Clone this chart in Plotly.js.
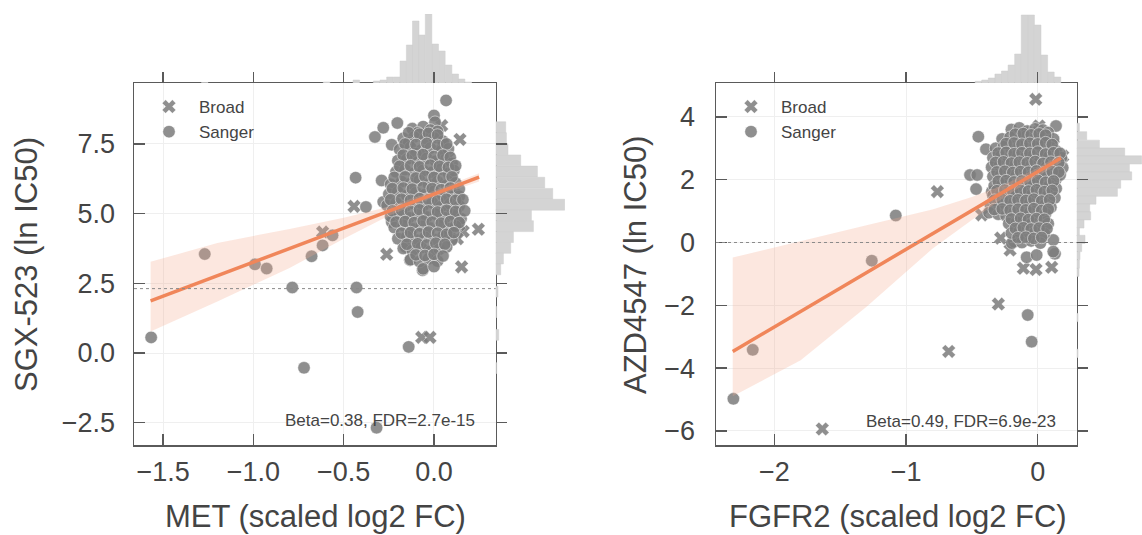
<!DOCTYPE html>
<html>
<head>
<meta charset="utf-8">
<script src="https://cdn.plot.ly/plotly-3.0.1.min.js"></script>
<style>html,body{margin:0;padding:0;background:#fff;}#chart{width:1142px;height:535px;}</style>
</head>
<body>
<div id="chart"></div>
<script>
// ---------------- DATA ----------------
// Left panel: MET vs SGX-523
const metBroad = [[-0.443,5.26],[-0.617,4.34],[-0.262,3.54],[0.153,3.09],[0.246,4.44],[0.162,4.36],[0.144,7.66],[0.043,7.51],[0.043,8.16],[-0.026,7.92],[0.08,7.03],[0.09,6.4],[-0.068,0.56],[-0.022,0.56],[0.12,5.9],[0.13,4.1],[0.1,5.0],[0.14,4.6]];
const metSanger = [
 [0.067,9.06],[0.0,8.52],[0.006,8.28],[-0.203,8.25],[-0.281,8.08],[-0.327,7.75],[-0.234,7.47],[-0.434,6.29],[-0.29,6.19],[-0.377,5.24],[-0.281,5.42],[-0.234,4.7],[-0.562,4.22],[-0.617,3.86],[-0.678,3.47],[-1.27,3.55],[-0.992,3.18],[-0.927,3.03],[-0.785,2.35],[-0.429,2.35],[-0.423,1.47],[-1.567,0.56],[-0.14,0.22],[-0.72,-0.53],[-0.318,-2.68],[-0.157,3.8],[-0.133,3.33],[-0.063,2.97],
 [-0.12,8.05],[-0.06,8.12],[-0.02,8.0],[0.02,7.95],[-0.09,7.9],
 [-0.17,7.7],[-0.11,7.75],[-0.05,7.68],[0.0,7.72],[0.05,7.6],[-0.14,7.55],
 [-0.19,7.3],[-0.13,7.38],[-0.07,7.28],[-0.02,7.35],[0.04,7.25],[0.08,7.32],[-0.1,7.15],
 [-0.2,6.9],[-0.15,6.95],[-0.09,6.85],[-0.04,6.98],[0.01,6.88],[0.06,6.92],[0.1,6.8],
 [-0.21,6.5],[-0.16,6.58],[-0.11,6.45],[-0.06,6.55],[-0.01,6.48],[0.04,6.6],[0.08,6.45],[0.11,6.55],
 [-0.24,6.05],[-0.18,6.15],[-0.13,6.08],[-0.08,6.2],[-0.03,6.05],[0.02,6.15],[0.07,6.02],[0.12,6.1],
 [-0.25,5.7],[-0.2,5.78],[-0.15,5.65],[-0.1,5.75],[-0.05,5.68],[0.0,5.8],[0.05,5.66],[0.1,5.74],[0.14,5.62],
 [-0.26,5.3],[-0.21,5.38],[-0.16,5.25],[-0.11,5.35],[-0.06,5.28],[-0.01,5.4],[0.04,5.25],[0.09,5.35],[0.14,5.28],
 [-0.24,4.9],[-0.19,4.98],[-0.14,4.85],[-0.09,4.95],[-0.04,4.88],[0.01,4.98],[0.06,4.85],[0.11,4.95],[0.15,4.82],
 [-0.22,4.5],[-0.17,4.58],[-0.12,4.45],[-0.07,4.55],[-0.02,4.48],[0.03,4.58],[0.08,4.45],[0.12,4.55],
 [-0.2,4.1],[-0.15,4.18],[-0.1,4.05],[-0.05,4.15],[0.0,4.08],[0.05,4.18],[0.1,4.05],
 [-0.17,3.75],[-0.12,3.68],[-0.07,3.78],[-0.02,3.65],[0.03,3.72],[0.07,3.8],
 [-0.13,3.35],[-0.08,3.28],[-0.03,3.38],[0.02,3.3],
 [-0.06,3.02],[0.0,3.1],
 [-0.14,7.9],[-0.08,7.85],[-0.03,7.88],[0.02,7.82],
 [-0.16,7.5],[-0.1,7.48],[-0.04,7.52],[0.02,7.45],[0.07,7.5],
 [-0.17,7.1],[-0.12,7.08],[-0.06,7.12],[0.0,7.05],[0.05,7.1],[0.09,7.02],
 [-0.19,6.7],[-0.13,6.72],[-0.08,6.68],[-0.02,6.74],[0.03,6.7],[0.08,6.66],[0.12,6.72],
 [-0.22,6.3],[-0.16,6.32],[-0.1,6.28],[-0.05,6.34],[0.0,6.3],[0.05,6.28],[0.1,6.32],
 [-0.23,5.9],[-0.17,5.92],[-0.12,5.88],[-0.06,5.94],[-0.01,5.9],[0.04,5.86],[0.09,5.92],[0.14,5.88],
 [-0.24,5.5],[-0.18,5.52],[-0.13,5.48],[-0.08,5.54],[-0.03,5.5],[0.02,5.46],[0.07,5.52],[0.12,5.48],[0.16,5.5],
 [-0.23,5.1],[-0.18,5.12],[-0.13,5.08],[-0.08,5.14],[-0.03,5.1],[0.02,5.06],[0.07,5.12],[0.12,5.08],[0.17,5.1],
 [-0.21,4.7],[-0.16,4.72],[-0.11,4.68],[-0.06,4.74],[-0.01,4.7],[0.04,4.66],[0.09,4.72],[0.14,4.68],
 [-0.18,4.3],[-0.13,4.32],[-0.08,4.28],[-0.03,4.34],[0.02,4.3],[0.07,4.26],[0.11,4.32],
 [-0.15,3.9],[-0.09,3.92],[-0.04,3.88],[0.01,3.94],[0.06,3.9],
 [-0.1,3.52],[-0.05,3.5],[0.0,3.54],[0.05,3.48]
];
const metFitX = [-1.57, 0.25];
const metFitY = [1.87, 6.31];
const metBandX  = [-1.57, -1.2, -0.8, -0.5, -0.25, 0.0, 0.25];
const metBandHi = [3.27, 3.95, 4.45, 4.85, 5.25, 5.82, 6.45];
const metBandLo = [0.77, 1.85, 3.05, 4.10, 4.92, 5.60, 6.15];
const metRefY = 2.31;
const metHistXBins   = [-1.27,-0.595,-0.43,-0.318,-0.281,-0.244,-0.207,-0.170,-0.135,-0.101,-0.067,-0.030,0.007,0.044,0.081,0.118,0.153,0.19];
const metHistXCounts = [0.5,1,3,2,3,6,6,22,38,62,48,69,39,32,18,9,4,1];
const metHistYBins   = [8.10,7.71,7.31,6.91,6.51,6.11,5.71,5.32,4.94,4.55,4.16,3.77,3.39,3.00,2.20,1.47,0.65,-0.54];
const metHistYCounts = [10,10.7,12.3,25,41.7,49,57,69,35.7,37.7,17.7,15,7.7,5,2.3,1,3,1];
const metStat = "Beta=0.38, FDR=2.7e-15";

// Right panel: FGFR2 vs AZD4547
const fgfrBroad = [[-0.015,4.56],[0.01,3.71],[-0.762,1.62],[-0.425,0.88],[-0.281,0.14],[-0.21,-0.24],[-0.299,-1.96],[-0.676,-3.47],[-1.636,-5.94],[-0.109,-0.82],[-0.013,-0.86],[0.106,-0.79],[0.19,2.75],[-0.05,3.5],[0.12,3.1]];
const fgfrSanger = [
 [0.139,3.71],[-0.451,3.37],[-0.393,2.97],[-0.514,2.15],[-0.46,2.15],[-0.468,1.70],[-1.078,0.86],[-1.26,-0.58],[-0.076,-2.31],[-0.046,-3.16],[-2.164,-3.42],[-2.311,-4.98],[0.131,-0.36],[-0.084,-0.47],[-0.008,-0.40],[-0.18,0.03],[0.118,0.08],[0.118,-0.29],[-0.349,1.62],[-0.197,-0.02],
 [-0.2,3.6],[-0.14,3.65],[-0.08,3.55],[-0.02,3.62],[0.04,3.58],[0.08,3.5],
 [-0.27,3.3],[-0.21,3.35],[-0.15,3.25],[-0.09,3.38],[-0.03,3.28],[0.03,3.35],[0.08,3.25],[0.12,3.3],
 [-0.32,3.0],[-0.26,3.05],[-0.2,2.95],[-0.14,3.08],[-0.08,2.98],[-0.02,3.05],[0.04,2.95],[0.1,3.02],[0.14,2.92],
 [-0.34,2.7],[-0.28,2.75],[-0.22,2.65],[-0.16,2.78],[-0.1,2.68],[-0.04,2.75],[0.02,2.65],[0.08,2.72],[0.14,2.62],[0.18,2.7],
 [-0.35,2.4],[-0.29,2.45],[-0.23,2.35],[-0.17,2.48],[-0.11,2.38],[-0.05,2.45],[0.01,2.35],[0.07,2.42],[0.13,2.32],[0.19,2.38],
 [-0.34,2.1],[-0.28,2.15],[-0.22,2.05],[-0.16,2.18],[-0.1,2.08],[-0.04,2.15],[0.02,2.05],[0.08,2.12],[0.14,2.02],[0.17,2.15],
 [-0.33,1.8],[-0.27,1.85],[-0.21,1.75],[-0.15,1.88],[-0.09,1.78],[-0.03,1.85],[0.03,1.75],[0.09,1.82],[0.14,1.72],
 [-0.34,1.5],[-0.28,1.55],[-0.22,1.45],[-0.16,1.58],[-0.1,1.48],[-0.04,1.55],[0.02,1.45],[0.08,1.52],[0.13,1.42],
 [-0.36,1.2],[-0.3,1.25],[-0.24,1.15],[-0.18,1.28],[-0.12,1.18],[-0.06,1.25],[0.0,1.15],[0.06,1.22],[0.1,1.12],
 [-0.37,0.95],[-0.3,0.9],[-0.24,0.85],[-0.18,0.95],[-0.12,0.88],[-0.06,0.95],[0.0,0.85],[0.06,0.92],
 [-0.22,0.6],[-0.16,0.65],[-0.1,0.55],[-0.04,0.62],[0.02,0.55],[0.08,0.6],
 [-0.2,0.3],[-0.14,0.35],[-0.08,0.25],[-0.02,0.32],[0.05,0.28],
 [-0.12,0.0],[-0.05,0.05],[0.02,-0.02],
 [-0.17,3.45],[-0.11,3.47],[-0.05,3.43],[0.01,3.46],[0.06,3.42],
 [-0.24,3.15],[-0.18,3.17],[-0.12,3.13],[-0.06,3.16],[0.0,3.14],[0.06,3.18],[0.11,3.12],
 [-0.3,2.85],[-0.24,2.87],[-0.18,2.83],[-0.12,2.86],[-0.06,2.84],[0.0,2.88],[0.06,2.82],[0.12,2.86],[0.17,2.84],
 [-0.32,2.55],[-0.26,2.57],[-0.2,2.53],[-0.14,2.56],[-0.08,2.54],[-0.02,2.58],[0.04,2.52],[0.1,2.56],[0.16,2.54],
 [-0.31,2.25],[-0.25,2.27],[-0.19,2.23],[-0.13,2.26],[-0.07,2.24],[-0.01,2.28],[0.05,2.22],[0.11,2.26],[0.16,2.24],
 [-0.3,1.95],[-0.24,1.97],[-0.18,1.93],[-0.12,1.96],[-0.06,1.94],[0.0,1.98],[0.06,1.92],[0.12,1.96],
 [-0.31,1.65],[-0.25,1.67],[-0.19,1.63],[-0.13,1.66],[-0.07,1.64],[-0.01,1.68],[0.05,1.62],[0.11,1.66],
 [-0.33,1.35],[-0.27,1.37],[-0.21,1.33],[-0.15,1.36],[-0.09,1.34],[-0.03,1.38],[0.03,1.32],[0.09,1.36],
 [-0.33,1.05],[-0.27,1.07],[-0.21,1.03],[-0.15,1.06],[-0.09,1.04],[-0.03,1.08],[0.03,1.02],[0.08,1.06],
 [-0.2,0.75],[-0.13,0.77],[-0.07,0.73],[-0.01,0.76],[0.05,0.74],
 [-0.17,0.45],[-0.11,0.47],[-0.05,0.43],[0.01,0.46],[0.07,0.44],
 [-0.15,0.15],[-0.09,0.17],[-0.03,0.13],[0.03,0.16]
];
const fgfrFitX = [-2.316, 0.177];
const fgfrFitY = [-3.47, 2.69];
const fgfrBandX  = [-2.316, -1.8, -1.3, -0.8, -0.5, -0.25, 0.0, 0.177];
const fgfrBandHi = [-0.48, 0.05, 0.55, 1.05, 1.45, 1.85, 2.38, 2.82];
const fgfrBandLo = [-4.90, -3.75, -2.05, -0.20, 0.72, 1.45, 2.12, 2.55];
const fgfrRefY = 0;
const fgfrHistXBins   = [-0.45,-0.40,-0.35,-0.30,-0.25,-0.20,-0.15,-0.10,-0.05,0.0,0.05,0.10,0.15];
const fgfrHistXCounts = [1.7,3,5,9,12,18,29,68,68,58,28,11,6];
const fgfrHistYBins   = [3.67,3.40,3.13,2.88,2.63,2.37,2.12,1.86,1.60,1.35,1.10,0.85,0.59,0.34,0.10,-0.16,-0.42,-0.69,-0.95,-2.39,-3.53];
const fgfrHistYCounts = [2.7,10,22.7,48,65,52.7,55,44,40.7,19.3,13,14,7.3,2.7,8.3,5,3.3,2.7,2.3,1.3,1.3];
const fgfrStat = "Beta=0.49, FDR=6.9e-23";

const xTitles = ["MET (scaled log2 FC)", "FGFR2 (scaled log2 FC)"];
const yTitles = ["SGX-523 (ln IC50)", "AZD4547 (ln IC50)"];
const seriesNames = ["Broad", "Sanger"];

// ---------------- STYLE ----------------
const W = 1142, H = 535;
const FONT = "Liberation Sans, Arial, Helvetica, sans-serif";
const TXT = "#444444";
const PT = "rgba(125,125,125,0.86)";
const PTLINE = "rgba(255,255,255,0.5)";
const ORANGE = "#f0865a";
const BAND = "rgba(245,170,140,0.28)";
const HIST = "#d4d4d4";
const AX = "#5a5a5a";

const px = (a) => a / W;          // horizontal pixel -> paper
const py = (a) => 1 - a / H;      // vertical pixel (from top) -> paper

const L = {x0: 134, x1: 495.7}, R = {x0: 716, x1: 1076.7};
const Y0 = 83, Y1 = 445;
const mainY = [py(Y1), py(Y0)];
const topHistY = [py(Y0), py(14)];

function xs(a){return a.map(p=>p[0]);}
function ys(a){return a.map(p=>p[1]);}

function panelTraces(broad, sanger, fitX, fitY, bx, hi, lo, hx, hxc, hy, hyc, xa, ya, xt, yr, legendId, bw, bh){
  const t = [];
  t.push({type:'bar', x:hx, y:hxc, xaxis:xt, yaxis:'y'+xt.slice(1), width:bw,
          marker:{color:HIST, line:{color:'#cccccc', width:0.5}}, showlegend:false, hoverinfo:'skip'});
  t.push({type:'bar', orientation:'h', y:hy, x:hyc, xaxis:'x'+yr.slice(1), yaxis:yr, width:bh,
          marker:{color:HIST, line:{color:'#cccccc', width:0.5}}, showlegend:false, hoverinfo:'skip'});
  t.push({type:'scatter', mode:'markers', name:seriesNames[0], x:xs(broad), y:ys(broad), xaxis:xa, yaxis:ya, legend:legendId,
          marker:{symbol:'x', size:12, color:PT, line:{color:PTLINE, width:0.6}}});
  t.push({type:'scatter', mode:'markers', name:seriesNames[1], x:xs(sanger), y:ys(sanger), xaxis:xa, yaxis:ya, legend:legendId,
          marker:{symbol:'circle', size:12.5, color:PT, line:{color:PTLINE, width:1}}});
  t.push({type:'scatter', mode:'lines', x:bx.concat(bx.slice().reverse()), y:hi.concat(lo.slice().reverse()),
          fill:'toself', fillcolor:BAND, line:{width:0}, xaxis:xa, yaxis:ya, showlegend:false, hoverinfo:'skip'});
  t.push({type:'scatter', mode:'lines', x:fitX, y:fitY, line:{color:ORANGE, width:3.5}, xaxis:xa, yaxis:ya, showlegend:false});
  return t;
}

const data = [].concat(
  panelTraces(metBroad, metSanger, metFitX, metFitY, metBandX, metBandHi, metBandLo,
              metHistXBins, metHistXCounts, metHistYBins, metHistYCounts, 'x', 'y', 'x3', 'y4', 'legend', 0.036, 0.39),
  panelTraces(fgfrBroad, fgfrSanger, fgfrFitX, fgfrFitY, fgfrBandX, fgfrBandHi, fgfrBandLo,
              fgfrHistXBins, fgfrHistXCounts, fgfrHistYBins, fgfrHistYCounts, 'x2', 'y2', 'x5', 'y6', 'legend2', 0.05, 0.26)
);

const tickFont = {family:FONT, size:27, color:TXT};
function mainAxis(domain, range, dtick, fmt, anchor){
  return {domain:domain, range:range, dtick:dtick, tick0:0, tickformat:fmt, anchor:anchor,
          showline:true, mirror:true, linecolor:AX, linewidth:1.5,
          ticks:'inside', ticklen:11, tickwidth:1.5, tickcolor:AX,
          showgrid:true, gridcolor:'#efefef', gridwidth:1, zeroline:false,
          tickfont:tickFont, fixedrange:true};
}
function margAxis(domain, match, dtick, anchor){
  return {domain:domain, matches:match, dtick:dtick, tick0:0, anchor:anchor,
          showline:false, ticks:'inside', ticklen:11, tickwidth:1.5, tickcolor:AX,
          showticklabels:false, showgrid:false, zeroline:false};
}
function hiddenAxis(domain, range, anchor){
  return {domain:domain, range:range, anchor:anchor, visible:false, showgrid:false, zeroline:false};
}

const legendStyle = {xanchor:'left', yanchor:'top', bgcolor:'rgba(0,0,0,0)',
                     font:{family:FONT, size:17, color:TXT}, itemwidth:50};

const layout = {
  width:W, height:H, margin:{l:0,r:0,t:0,b:0}, paper_bgcolor:'#fff', plot_bgcolor:'rgba(0,0,0,0)',
  font:{family:FONT, color:TXT}, bargap:0,
  xaxis: Object.assign(mainAxis([px(L.x0),px(L.x1)], [-1.662,0.342], 0.5, '.1f', 'y'), {ticklabelstandoff:2}),
  yaxis: Object.assign(mainAxis(mainY, [-3.3,9.686], 2.5, '.1f', 'x'), {ticklabelstandoff:12}),
  xaxis2: Object.assign(mainAxis([px(R.x0),px(R.x1)], [-2.443,0.296], 1, 'd', 'y2'), {ticklabelstandoff:2}),
  yaxis2: Object.assign(mainAxis(mainY, [-6.45,5.08], 2, 'd', 'x2'), {ticklabelstandoff:14}),
  xaxis3: margAxis([px(L.x0),px(L.x1)], 'x', 0.5, 'y3'),
  yaxis3: hiddenAxis(topHistY, [0,69], 'x3'),
  xaxis4: hiddenAxis([px(L.x1), px(565)], [0,69.3], 'y4'),
  yaxis4: margAxis(mainY, 'y', 2.5, 'x4'),
  xaxis5: margAxis([px(R.x0),px(R.x1)], 'x2', 1, 'y5'),
  yaxis5: hiddenAxis(topHistY, [0,69], 'x5'),
  xaxis6: hiddenAxis([px(R.x1), 1], [0,65.3], 'y6'),
  yaxis6: margAxis(mainY, 'y2', 2, 'x6'),
  legend: Object.assign({x:px(139), y:py(89)}, legendStyle),
  legend2: Object.assign({x:px(721), y:py(89)}, legendStyle),
  shapes: [
    {type:'line', xref:'x domain', yref:'y', x0:0, x1:1, y0:metRefY, y1:metRefY, line:{color:'#8a8a8a', width:1, dash:'dot'}},
    {type:'line', xref:'x2 domain', yref:'y2', x0:0, x1:1, y0:fgfrRefY, y1:fgfrRefY, line:{color:'#8a8a8a', width:1, dash:'dot'}}
  ],
  annotations: [
    {xref:'paper', yref:'paper', x:px(476.7), y:py(420), xanchor:'right', yanchor:'middle', showarrow:false, text:metStat, font:{family:FONT, size:17, color:TXT}},
    {xref:'paper', yref:'paper', x:px(1058.3), y:py(421.7), xanchor:'right', yanchor:'middle', showarrow:false, text:fgfrStat, font:{family:FONT, size:17, color:TXT}},
    {xref:'paper', yref:'paper', x:px(315), y:py(516), xanchor:'center', yanchor:'middle', showarrow:false, text:xTitles[0], font:{family:FONT, size:31, color:TXT}},
    {xref:'paper', yref:'paper', x:px(897.5), y:py(516), xanchor:'center', yanchor:'middle', showarrow:false, text:xTitles[1], font:{family:FONT, size:31, color:TXT}},
    {xref:'paper', yref:'paper', x:px(27), y:py(265), xanchor:'center', yanchor:'middle', textangle:-90, showarrow:false, text:yTitles[0], font:{family:FONT, size:31, color:TXT}},
    {xref:'paper', yref:'paper', x:px(636), y:py(265), xanchor:'center', yanchor:'middle', textangle:-90, showarrow:false, text:yTitles[1], font:{family:FONT, size:31, color:TXT}}
  ]
};

Plotly.newPlot('chart', data, layout, {displayModeBar:false, staticPlot:true});
</script>
</body>
</html>
